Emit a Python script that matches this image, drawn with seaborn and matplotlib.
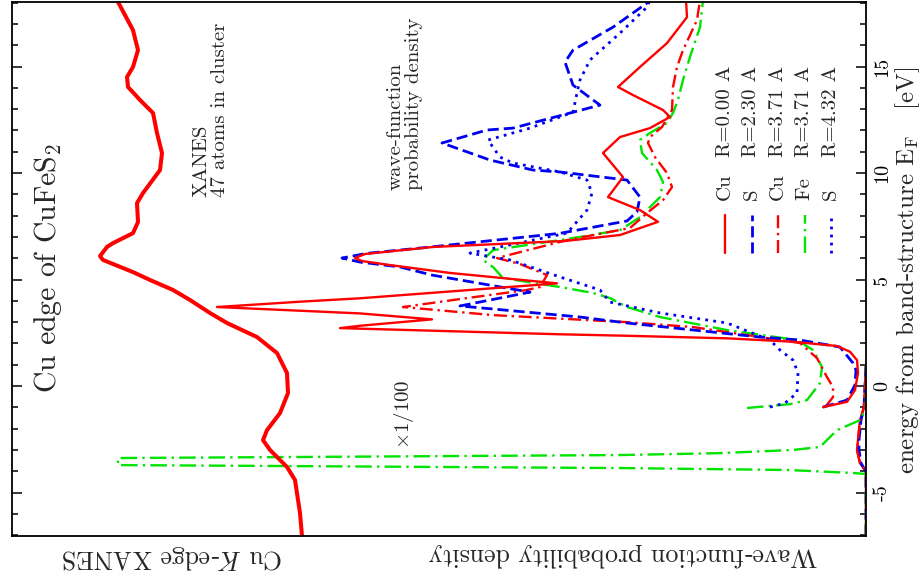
import matplotlib
matplotlib.use("Agg")
import matplotlib.pyplot as plt
from matplotlib.lines import Line2D
from matplotlib.ticker import MultipleLocator, FixedLocator
import seaborn as sns

# ---- wave-function probability density (energy in eV, density in arb. units) ----
cu0_E = [-0.99, -0.74, -0.19, 0.61, 1.22, 1.61, 1.88, 2.08, 2.24, 2.36, 2.43, 2.72, 2.83, 3.13,
         3.41, 3.71, 3.96, 4.12, 4.82, 5.31, 5.68, 5.87, 6.01, 6.2, 6.53, 6.81, 7.09, 7.71, 8.26,
         8.87, 9.81, 10.94, 11.69, 12.11, 12.63, 12.96, 13.66, 14.04, 14.98, 16.1, 17.32, 18.12]
cu0_d = [0.43, 0.19, 0.11, 0.08, 0.09, 0.16, 0.29, 0.73, 1.39, 2.39, 3.06, 5.26, 5.06, 4.34,
         5.06, 6.49, 5.66, 5.06, 3.09, 4.16, 4.76, 5.04, 5.11, 5.01, 4.33, 3.01, 2.46, 2.08, 2.26,
         2.58, 2.43, 2.63, 2.46, 2.16, 1.96, 2.03, 2.33, 2.48, 2.26, 1.99, 1.79, 1.80]

s230_E = [-0.99, -0.66, 0.05, 0.75, 1.08, 1.83, 2.16, 2.30, 2.96, 3.24, 3.76, 4.41, 5.21, 5.59,
          5.82, 6.01, 6.23, 6.54, 7.17, 7.75, 8.18, 8.87, 9.67, 10.05, 10.14, 10.61, 11.41, 12.02,
          12.11, 13.19, 14.13, 15.21, 15.77, 16.85, 17.98, 18.12]
s230_d = [0.43, 0.19, 0.11, 0.10, 0.13, 0.26, 0.66, 1.06, 2.39, 2.86, 4.06, 3.36, 4.34, 4.66,
          5.06, 5.24, 4.99, 4.33, 3.06, 2.39, 2.29, 2.26, 2.39, 3.06, 3.33, 3.76, 4.24, 3.79,
          3.53, 2.66, 2.93, 3.01, 2.93, 2.53, 2.19, 2.16]

cu371_E = [-0.94, -0.52, -0.05, 0.42, 1.31, 2.02, 2.30, 2.77, 3.00, 3.33, 3.71, 4.13, 4.51, 4.65,
           5.21, 5.73, 6.01, 6.85, 7.42, 8.12, 8.73, 9.34, 10.0, 10.75, 11.41, 11.69, 12.16, 12.96,
           14.04, 14.98, 15.77, 17.18, 18.12]
cu371_d = [0.40, 0.33, 0.33, 0.39, 0.49, 0.66, 1.06, 1.73, 2.39, 3.73, 4.63, 3.99, 3.39, 3.26,
           3.19, 3.46, 3.69, 2.99, 2.36, 2.19, 2.03, 1.94, 1.99, 2.11, 2.18, 2.16, 2.04, 1.94,
           1.93, 1.89, 1.83, 1.69, 1.66]

fe371_E = [-1.03, -0.85, -0.66, 0.14, 0.89, 1.36, 1.69, 2.16, 2.63, 3.24, 3.71, 4.13, 4.37, 4.65,
           5.07, 5.59, 5.92, 6.38, 6.62, 7.0, 7.32, 7.93, 8.87, 9.58, 10.14, 10.94, 11.55, 11.88,
           12.35, 12.82, 13.43, 14.37, 15.45, 16.85, 18.12]
fe371_d = [1.19, 0.76, 0.59, 0.46, 0.44, 0.49, 0.53, 0.69, 1.39, 2.06, 2.39, 2.56, 2.73, 3.06,
           3.63, 3.73, 3.83, 3.73, 3.39, 2.86, 2.46, 2.26, 2.06, 2.03, 2.09, 2.24, 2.26, 2.16,
           1.99, 1.93, 1.88, 1.83, 1.76, 1.66, 1.63]

s432_E = [-0.99, -0.80, -0.33, 0.61, 1.22, 1.69, 2.16, 2.96, 3.43, 3.94, 4.51, 5.12, 5.92, 6.24,
          7.18, 8.26, 9.06, 9.67, 10.05, 10.47, 10.75, 11.41, 11.55, 12.11, 12.86, 13.76, 14.37,
          15.31, 16.57, 17.79, 18.12]
s432_d = [0.96, 0.81, 0.69, 0.68, 0.73, 0.86, 0.96, 1.39, 2.06, 2.56, 2.66, 3.06, 3.56, 3.96,
          2.99, 2.79, 2.74, 2.79, 3.06, 3.53, 3.66, 3.76, 3.78, 3.36, 2.93, 2.89, 2.86, 2.76,
          2.46, 2.19, 2.16]

# low-energy tails (Fe 3d band shown x1/100)
low_E = [-7.04, -4.2, -3.94, -3.62, -3.0, -2.54, -1.6, -1.0, 1.0]
low_cu_d = [0.0, 0.0, 0.01, 0.06, 0.09, 0.08, 0.06, 0.02, 0.0]
low_s_d = [0.0, 0.0, 0.01, 0.05, 0.07, 0.07, 0.05, 0.02, 0.0]
low_flat_E = [-7.04, 1.0]
low_flat_d = [0.0, 0.0]
fe_low_E = [-7.04, -4.13, -4.08, -3.94, -3.85, -3.76, -3.71, -3.38, -3.33, -3.24, -3.15, -3.0,
            -2.86, -2.07, -1.6, -1.03, 1.0]
fe_low_d = [0.0, 0.0, 0.13, 0.79, 2.46, 5.66, 7.48, 7.48, 5.66, 2.46, 1.46, 0.73, 0.46, 0.29,
            0.06, 0.0, 0.0]

# ---- Cu K-edge XANES (47 atoms in cluster), same energy scale ----
xanes_E = [-7.04, -5.96, -4.41, -3.8, -3.0, -2.54, -2.07, -1.27, -0.33, 0.61, 1.55, 2.3, 2.96,
           3.43, 4.04, 4.51, 4.98, 5.35, 5.92, 6.1, 6.53, 6.71, 7.18, 7.7, 8.59, 9.06, 10.14,
           10.94, 11.88, 12.82, 13.43, 14.04, 14.51, 14.98, 15.77, 16.71, 18.12]
xanes_d = [5.64, 5.66, 5.71, 5.79, 5.96, 6.03, 5.99, 5.86, 5.78, 5.79, 5.89, 6.09, 6.39, 6.56,
           6.76, 6.93, 7.16, 7.33, 7.63, 7.66, 7.59, 7.53, 7.33, 7.28, 7.29, 7.23, 7.06, 7.04,
           7.09, 7.13, 7.26, 7.38, 7.39, 7.33, 7.28, 7.33, 7.49]

energy_ticks = [-5, 0, 5, 10, 15]
legend_atoms = ["Cu", "S", "Cu", "Fe", "S"]
legend_R = ["R=0.00 A", "R=2.30 A", "R=3.71 A", "R=3.71 A", "R=4.32 A"]

RED = "#ff0000"
BLUE = "#0000f0"
GREEN = "#00e400"
SOLID = "-"
DASHED = (0, (4.0, 1.8))
DASHDOT_R = (0, (5.5, 2.0, 1.0, 2.0))
DASHDOT_G = (0, (7.0, 2.2, 1.0, 2.2))
DOTTED = (0, (1.0, 1.9))

styles = [
    (RED, SOLID, 1.7),
    (BLUE, DASHED, 2.0),
    (RED, DASHDOT_R, 1.7),
    (GREEN, DASHDOT_G, 1.7),
    (BLUE, DOTTED, 2.0),
]

sns.set_theme(style="white")
plt.rcParams.update({
    "font.family": "serif",
    "font.serif": ["cmr10"],
    "mathtext.fontset": "cm",
    "axes.unicode_minus": False,
    "axes.formatter.use_mathtext": False,
})

W, H = 924, 582
fig = plt.figure(figsize=(W / 100, H / 100), dpi=100)
ax = fig.add_axes([12 / W, 1 - 536 / H, (866 - 12) / W, (536 - 2) / H])


def draw(d, e, style):
    color, ls, lw = style
    sns.lineplot(x=d, y=e, sort=False, estimator=None, color=color,
                 linestyle=ls, linewidth=lw, ax=ax, legend=False)


# low-energy tails
draw(low_cu_d, low_E, styles[0])
draw(low_s_d, low_E, styles[1])
draw(low_cu_d, low_E, styles[2])
draw(low_flat_d, low_flat_E, styles[4])
draw(fe_low_d, fe_low_E, styles[3])

# main densities
draw(fe371_d, fe371_E, styles[3])
draw(cu371_d, cu371_E, styles[2])
draw(s432_d, s432_E, styles[4])
draw(s230_d, s230_E, styles[1])
draw(cu0_d, cu0_E, styles[0])

# XANES
sns.lineplot(x=xanes_d, y=xanes_E, sort=False, estimator=None, color=RED,
             linewidth=2.9, ax=ax, legend=False)

ax.set_xlim(8.54, 0)
ax.set_ylim(-7.04, 18.03)
ax.set_xlabel("")
ax.set_ylabel("")
ax.set_xticks([])
ax.yaxis.set_major_locator(FixedLocator(energy_ticks))
ax.yaxis.set_minor_locator(MultipleLocator(1))
ax.tick_params(axis="y", which="both", direction="in", left=True, right=True,
               labelleft=False, labelright=True, labelrotation=90, labelsize=14.5,
               pad=5, color="black", labelcolor="black")
ax.tick_params(axis="y", which="major", length=7.5, width=1.1)
ax.tick_params(axis="y", which="minor", length=4.5, width=1.1)
for sp in ax.spines.values():
    sp.set_color("black")
    sp.set_linewidth(1.3)
plt.setp(ax.get_yticklabels(), va="center")


def fx(px):
    return px / W


def fy(py):
    return 1 - py / H


# annotations
fig.text(fx(48), fy(268), r"Cu edge of CuFeS$_2$", rotation=90, ha="center", va="center",
         fontsize=21.5)
fig.text(fx(211), fy(197), "XANES\n47 atoms in cluster", rotation=90, ha="center",
         va="bottom", multialignment="left", fontsize=15, linespacing=1.05)
fig.text(fx(405), fy(190), "wave-function\nprobability density", rotation=90, ha="center",
         va="bottom", multialignment="left", fontsize=15, linespacing=1.05)
fig.text(fx(404), fy(414), r"$\times$1/100", rotation=90, ha="center", va="center",
         fontsize=15)

# axis titles
fig.text(fx(908), fy(270), r"energy from band-structure E$_\mathrm{F}$   [eV]", rotation=90,
         ha="center", va="center", fontsize=18)
fig.text(fx(623), fy(555), "Wave-function probability density", rotation=180, ha="center",
         va="center", fontsize=18.6)
fig.text(fx(172), fy(557), r"Cu $K$-edge XANES", rotation=180, ha="center", va="center",
         fontsize=18.6)

# legend drawn upright along the energy axis
for i, (atom, rlab, st) in enumerate(zip(legend_atoms, legend_R, styles)):
    xc = 725 + 26.5 * i
    color, ls, lw = st
    fig.add_artist(Line2D([fx(xc), fx(xc)], [fy(253), fy(215)], transform=fig.transFigure,
                          color=color, linestyle=ls, linewidth=lw))
    fig.text(fx(xc), fy(200), atom, rotation=90, ha="center", va="bottom", fontsize=15)
    fig.text(fx(xc), fy(157), rlab, rotation=90, ha="center", va="bottom", fontsize=15)

fig.savefig("out.png", dpi=100)
